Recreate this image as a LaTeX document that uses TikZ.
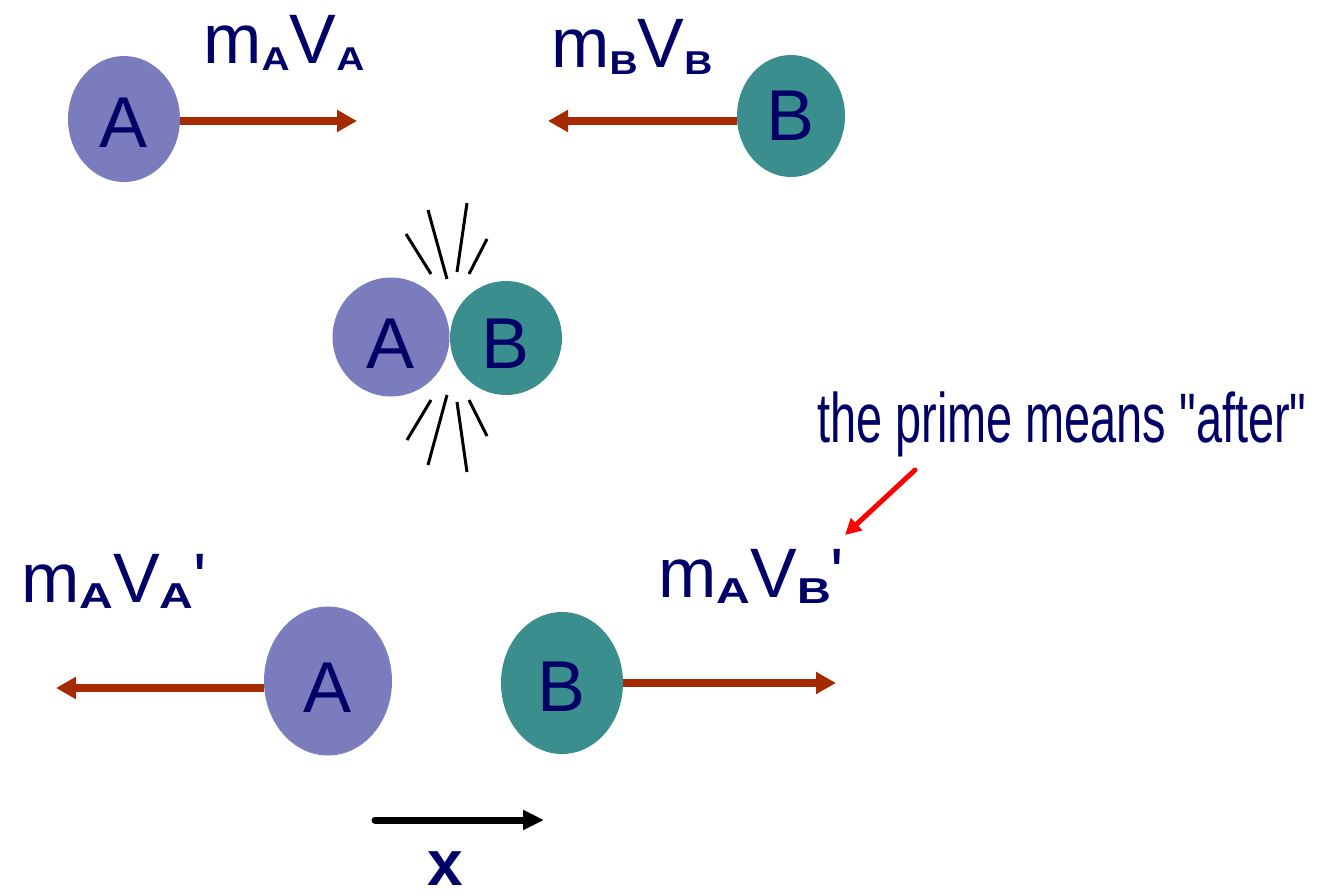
\documentclass[tikz,border=0pt]{standalone}
\usepackage{fontspec}
\newfontfamily\arialf{Liberation Sans}
\newfontfamily\narrowfont{Liberation Sans}[FakeStretch=0.67]
\usetikzlibrary{shapes.geometric,arrows.meta}
\definecolor{navy}{RGB}{0,0,102}
\definecolor{ballAcol}{RGB}{123,124,190}
\definecolor{ballBcol}{RGB}{58,142,142}
\definecolor{momred}{RGB}{166,42,0}
\newcommand{\subl}[1]{\raisebox{-7pt}{\scalebox{1.18}[1]{\fontsize{33}{33}\selectfont\bfseries #1}}}
\newcommand{\subL}[1]{\raisebox{-6pt}{\scalebox{1.3}[1]{\fontsize{36}{36}\selectfont\bfseries #1}}}
\begin{document}
\begin{tikzpicture}[x=1pt,y=-1pt,
  ball/.style={ellipse, inner sep=0pt, text=navy, font=\arialf\fontsize{72}{80}\selectfont},
  ballA/.style={ball, fill=ballAcol},
  ballB/.style={ball, fill=ballBcol},
  mom/.style={line width=8.5pt, draw=momred, -{Triangle[length=20pt,width=21pt]}},
  lbl/.style={anchor=base west, inner sep=0pt, text=navy, font=\arialf\fontsize{70}{80}\selectfont},
  burst/.style={line width=3pt, draw=black}]
\path[use as bounding box] (0,0) rectangle (1317,895);

% before
\node[ballA, minimum width=112pt, minimum height=126pt, text height=56pt] (A1) at (124,119) {A};
\node[ballB, minimum width=108pt, minimum height=122pt, text height=48pt] (B1) at (791,116) {B};
\coordinate (tA1) at (357,121);
\coordinate (tB1) at (548,121);
\draw[mom] (A1.east |- tA1) -- (tA1);
\draw[mom] (B1.west |- tB1) -- (tB1);
\node[lbl] (L1) at (203,63) {m\subl{A}V\subl{A}};
\node[lbl] (L2) at (551,67) {m\subl{B}V\subl{B}};

% collision
\node[ballA, minimum width=117pt, minimum height=119pt, text height=62pt] (A2) at (391,337) {A};
\node[ballB, minimum width=112pt, minimum height=114pt, text height=60pt] (B2) at (506,338) {B};
\draw[burst] (406,234) -- (431,274);
\draw[burst] (428,210) -- (447,279);
\draw[burst] (467,203) -- (457,272);
\draw[burst] (487,239) -- (469,274);
\draw[burst] (431,400) -- (407,440);
\draw[burst] (447,395) -- (428,465);
\draw[burst] (457,402) -- (467,472);
\draw[burst] (469,400) -- (487,436);

% after
\node[ballA, minimum width=128pt, minimum height=149pt, text height=63pt] (A3) at (328,681) {A};
\node[ballB, minimum width=122pt, minimum height=142pt, text height=57pt] (B3) at (562,683) {B};
\coordinate (tA3) at (56,688);
\coordinate (tB3) at (836,683);
\draw[mom] (A3.west |- tA3) -- (tA3);
\draw[mom] (B3.east |- tB3) -- (tB3);
\node[lbl] (L3) at (21,602) {m\subL{A}V\subL{A}'};
\node[lbl] (L4) at (658,597) {m\subL{A}V\subL{B}'};

% note
\node[anchor=base west, inner sep=0pt, text=navy, font=\narrowfont\fontsize{70}{80}\selectfont] (note) at (817,442) {the prime means "after"};
\coordinate (rs) at (915,470);
\coordinate (re) at (845,535);
\draw[line width=5pt, red, line cap=round, -{Triangle[length=16pt,width=16pt]}] (rs) -- (re);

% axis
\coordinate (xs) at (375,820);
\coordinate (xe) at (544,820);
\draw[line width=7pt, line cap=round, -{Triangle[length=21pt,width=19pt]}] (xs) -- (xe);
\node[anchor=base, inner sep=0pt, text=navy, font=\arialf\bfseries\fontsize{64}{70}\selectfont] (xl) at (445,885) {x};
\end{tikzpicture}
\end{document}
